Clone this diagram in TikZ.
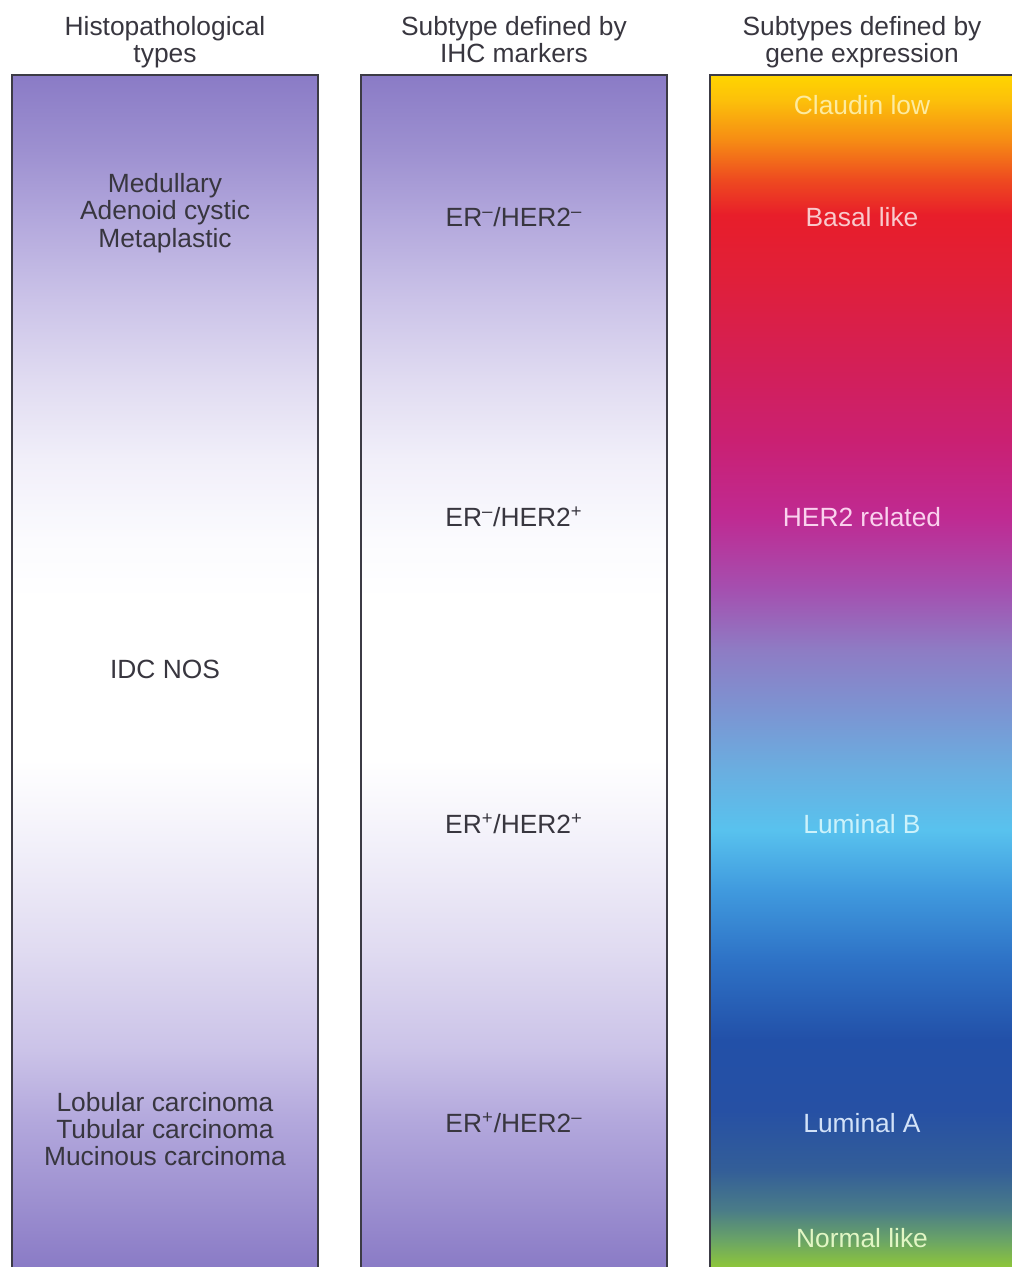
\documentclass[tikz,border=0pt]{standalone}
\usepackage{fontspec}
\setmainfont{Liberation Sans}
\usetikzlibrary{positioning}
\definecolor{BorderClr}{HTML}{3C3B45}
\definecolor{TextClr}{HTML}{38363F}
% purple bars
\definecolor{PurpA}{HTML}{8A7BC6}
\definecolor{PurpB}{HTML}{9D90D0}
\definecolor{PurpC}{HTML}{B2A7DC}
\definecolor{PurpD}{HTML}{CBC3E8}
\definecolor{PurpE}{HTML}{E0DBF1}
\definecolor{PurpF}{HTML}{F1EFF9}
\definecolor{PurpG}{HTML}{FBFBFE}
% gene expression bar
\definecolor{GenA}{HTML}{8EC63A}
\definecolor{GenB}{HTML}{6AA466}
\definecolor{GenC}{HTML}{4A7C88}
\definecolor{GenD}{HTML}{335E98}
\definecolor{GenE}{HTML}{2650A4}
\definecolor{GenF}{HTML}{2250A8}
\definecolor{GenG}{HTML}{2E72C6}
\definecolor{GenH}{HTML}{409ADE}
\definecolor{GenI}{HTML}{58C2EE}
\definecolor{GenJ}{HTML}{6AAEE0}
\definecolor{GenK}{HTML}{7C94D2}
\definecolor{GenL}{HTML}{8E7CC4}
\definecolor{GenM}{HTML}{A450B0}
\definecolor{GenN}{HTML}{BF2A92}
\definecolor{GenO}{HTML}{CA2072}
\definecolor{GenP}{HTML}{D41F55}
\definecolor{GenQ}{HTML}{E01F3A}
\definecolor{GenR}{HTML}{E81E2A}
\definecolor{GenS}{HTML}{EE4A20}
\definecolor{GenT}{HTML}{F68C14}
\definecolor{GenU}{HTML}{FCC00A}
\definecolor{GenV}{HTML}{FFD500}
% label colours
\definecolor{ClaudinClr}{HTML}{FDEBA0}
\definecolor{BasalClr}{HTML}{F9CACC}
\definecolor{HerClr}{HTML}{FAD2EE}
\definecolor{LumBClr}{HTML}{CCF2FB}
\definecolor{LumAClr}{HTML}{D2E2F8}
\definecolor{NormalClr}{HTML}{E2F6C4}

\pgfdeclareverticalshading{purpleShade}{100bp}{color(0bp)=(PurpA); color(25bp)=(PurpA);
  color(27.81bp)=(PurpB); color(31.04bp)=(PurpC); color(34.10bp)=(PurpD);
  color(38.30bp)=(PurpE); color(42.49bp)=(PurpF); color(46.27bp)=(white);
  color(52.98bp)=(white); color(55.50bp)=(PurpG); color(58.85bp)=(PurpF);
  color(62.21bp)=(PurpE); color(65.56bp)=(PurpD); color(69.04bp)=(PurpC);
  color(71.85bp)=(PurpB); color(75bp)=(PurpA); color(100bp)=(PurpA)}

\pgfdeclareverticalshading{geneShade}{100bp}{color(0bp)=(GenA); color(25bp)=(GenA);
  color(26.13bp)=(GenB); color(27.39bp)=(GenC); color(29.07bp)=(GenD);
  color(31.59bp)=(GenE); color(34.52bp)=(GenF); color(37.88bp)=(GenG);
  color(40.81bp)=(GenH); color(43.33bp)=(GenI); color(45.85bp)=(GenJ);
  color(48.36bp)=(GenK); color(50.88bp)=(GenL); color(53.40bp)=(GenM);
  color(56.46bp)=(GenN); color(59.69bp)=(GenO); color(63.05bp)=(GenP);
  color(66.40bp)=(GenQ); color(69.13bp)=(GenR); color(70.60bp)=(GenS);
  color(72.27bp)=(GenT); color(73.95bp)=(GenU); color(75bp)=(GenV);
  color(100bp)=(GenV)}

\begin{document}
\begin{tikzpicture}[x=0.2mm,y=-0.2mm,
  every node/.style={font=\fontsize{15}{15.6}\selectfont,align=center,inner sep=0pt},
  head/.style={text=TextClr,anchor=north},
  barText/.style={text=TextClr},
  barEdge/.style={draw=BorderClr,line width=1.6pt}]
\path[use as bounding box,clip] (0,0) rectangle (1012,1267);

% bars
\shade[shading=purpleShade] (12,75) rectangle (318,1267);
\shade[shading=purpleShade] (361,75) rectangle (667,1267);
\shade[shading=geneShade] (710,75) rectangle (1016,1267);
\draw[barEdge] (12,1280) -- (12,75) -- (318,75) -- (318,1280);
\draw[barEdge] (361,1280) -- (361,75) -- (667,75) -- (667,1280);
\draw[barEdge] (710,1280) -- (710,75) -- (1016,75) -- (1016,1280);

% headers
\node[head] (histHead) at (165,16) {Histopathological\\types};
\node[head] (ihcHead) at (514,16) {Subtype defined by\\IHC markers};
\node[head] (geneHead) at (862,16) {Subtypes defined by\\gene expression};

% histopathological types
\node[barText] (medullary) at (165,213) {Medullary\\Adenoid cystic\\Metaplastic};
\node[barText] (idcNos) at (165,669) {IDC NOS};
\node[barText] (lobular) at (165,1129) {Lobular carcinoma\\Tubular carcinoma\\Mucinous carcinoma};

% IHC markers
\node[barText] (erNegHerNeg) at (514,217) {ER\textsuperscript{--}/HER2\textsuperscript{--}};
\node[barText] (erNegHerPos) at (514,517) {ER\textsuperscript{--}/HER2\textsuperscript{+}};
\node[barText] (erPosHerPos) at (514,824) {ER\textsuperscript{+}/HER2\textsuperscript{+}};
\node[barText] (erPosHerNeg) at (514,1123) {ER\textsuperscript{+}/HER2\textsuperscript{--}};

% gene expression
\node[text=ClaudinClr] (claudin) at (862,105) {Claudin low};
\node[text=BasalClr] (basal) at (862,217) {Basal like};
\node[text=HerClr] (herRel) at (862,517) {HER2 related};
\node[text=LumBClr] (lumB) at (862,824) {Luminal B};
\node[text=LumAClr] (lumA) at (862,1123) {Luminal A};
\node[text=NormalClr] (normal) at (862,1238) {Normal like};

\end{tikzpicture}
\end{document}
